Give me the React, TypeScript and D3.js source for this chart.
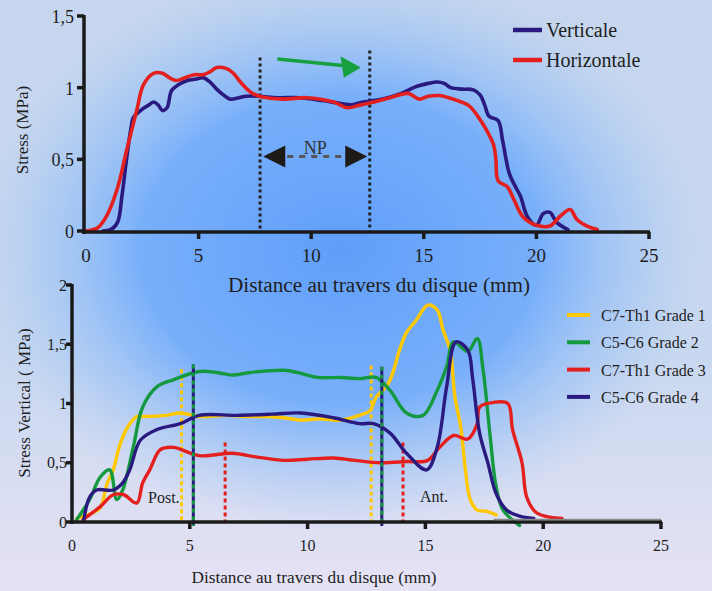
import React from "react";
import * as d3 from "d3";

type P = [number, number];

// ---- Top chart data ----
const verticale: P[] = [[0.75,0],[1.1,0.01],[1.4,0.06],[1.6,0.25],[1.8,0.5],[2.0,0.72],[2.1,0.79],[2.5,0.85],[2.8,0.88],[3.0,0.9],[3.2,0.88],[3.4,0.84],[3.6,0.86],[3.8,0.98],[4.1,1.02],[4.5,1.05],[4.9,1.06],[5.2,1.07],[5.5,1.04],[5.8,0.99],[6.1,0.95],[6.4,0.92],[6.8,0.93],[7.1,0.94],[7.7,0.94],[8.5,0.93],[9.5,0.93],[10.5,0.91],[11.3,0.89],[11.8,0.88],[12.3,0.9],[12.8,0.91],[13.4,0.93],[14.0,0.96],[14.4,0.99],[14.7,1.01],[15.2,1.03],[15.6,1.04],[15.9,1.03],[16.2,1.0],[16.7,0.99],[17.2,0.985],[17.5,0.95],[17.7,0.88],[17.9,0.8],[18.3,0.77],[18.5,0.63],[18.8,0.4],[19.1,0.3],[19.3,0.24],[19.6,0.1],[20.0,0.04],[20.3,0.12],[20.6,0.13],[20.9,0.06],[21.4,0.01]];
const horizontale: P[] = [[0,0],[0.5,0.02],[0.9,0.1],[1.4,0.3],[1.8,0.56],[2.25,0.84],[2.55,1.02],[3.0,1.1],[3.4,1.1],[3.7,1.07],[4.0,1.05],[4.4,1.07],[4.8,1.09],[5.2,1.09],[5.5,1.11],[5.8,1.14],[6.3,1.13],[6.6,1.09],[6.8,1.05],[7.3,0.97],[7.7,0.94],[8.8,0.92],[9.8,0.93],[11,0.9],[11.6,0.86],[12.2,0.88],[12.8,0.9],[13.5,0.93],[14.3,0.96],[14.8,0.92],[15.2,0.94],[15.7,0.945],[16.1,0.93],[16.5,0.91],[17.0,0.875],[17.4,0.8],[17.8,0.7],[18.1,0.6],[18.2,0.5],[18.3,0.35],[18.7,0.31],[19.0,0.22],[19.4,0.1],[20.0,0.04],[20.6,0.035],[21.1,0.11],[21.5,0.15],[21.8,0.08],[22.3,0.03],[22.7,0.01]];
const topXTicks = [0, 5, 10, 15, 20, 25];
const topYTicks = [0, 0.5, 1, 1.5];
const topMarkers: P[] = [[7.73, 1.21], [12.6, 1.26]]; // x, top

// ---- Bottom chart data ----
const grade1: P[] = [[0.2,0.03],[0.9,0.08],[1.2,0.12],[1.5,0.33],[1.75,0.44],[2.0,0.63],[2.3,0.78],[2.75,0.89],[3.0,0.89],[4.0,0.9],[4.6,0.92],[5.4,0.89],[6.5,0.9],[7.5,0.89],[8.3,0.89],[9.0,0.88],[9.7,0.86],[10.5,0.87],[11.4,0.86],[12.2,0.9],[12.65,0.94],[12.9,1.05],[13.4,1.16],[13.65,1.28],[13.9,1.45],[14.2,1.6],[14.6,1.7],[15.1,1.83],[15.5,1.79],[15.75,1.62],[16.05,1.45],[16.25,1.06],[16.5,0.8],[16.7,0.44],[16.9,0.19],[17.2,0.1],[17.6,0.09],[18.0,0.06]];
const grade2: P[] = [[0.2,0.02],[0.75,0.19],[1.2,0.38],[1.6,0.44],[1.9,0.19],[2.15,0.27],[2.6,0.63],[3.0,0.97],[3.6,1.14],[4.3,1.2],[5.4,1.27],[6.2,1.26],[6.85,1.24],[7.5,1.26],[9.0,1.28],[9.6,1.26],[10.4,1.22],[11.4,1.22],[12.2,1.21],[12.9,1.22],[13.5,1.11],[14.2,0.92],[14.9,0.9],[15.5,1.11],[15.9,1.31],[16.2,1.52],[16.8,1.44],[17.2,1.55],[17.45,1.28],[17.75,0.72],[18.0,0.3],[18.3,0.1],[19.0,-0.03]];
const grade3: P[] = [[0.47,0.02],[1.2,0.13],[1.75,0.23],[2.2,0.23],[2.75,0.16],[3.0,0.33],[3.3,0.44],[3.75,0.61],[4.3,0.63],[5.4,0.56],[6.8,0.58],[7.8,0.55],[9.0,0.52],[10,0.53],[11.1,0.54],[12,0.52],[13.1,0.5],[14.2,0.51],[15.1,0.52],[15.6,0.63],[16.2,0.73],[16.8,0.7],[17.2,0.83],[17.3,0.97],[17.9,1.01],[18.5,1.0],[18.7,0.78],[19.1,0.5],[19.3,0.21],[19.7,0.08],[20.3,0.04],[20.8,0.03]];
const grade4: P[] = [[0.5,0.02],[0.75,0.21],[1.05,0.27],[1.75,0.27],[2.15,0.33],[2.45,0.44],[2.9,0.69],[3.6,0.78],[4.6,0.83],[5.4,0.9],[7,0.9],[8.5,0.91],[9.7,0.92],[11.1,0.88],[12.2,0.83],[12.8,0.83],[13.5,0.75],[14.2,0.58],[15.05,0.44],[15.5,0.63],[15.9,1.14],[16.3,1.52],[16.8,1.45],[17.0,1.22],[17.3,0.75],[17.65,0.5],[18.0,0.24],[18.45,0.1],[19.0,0.05],[19.6,0.03]];
const bottomXTicks = [0, 5, 10, 15, 20, 25];
const bottomYTicks = [0, 0.5, 1, 1.5, 2];
const bottomLegend = ["C7-Th1 Grade 1", "C5-C6 Grade 2", "C7-Th1 Grade 3", "C5-C6 Grade 4"];
const bottomColors = ["#ffc800", "#14993f", "#e3201e", "#2a1a80"];
const yellowMarkers: P[] = [[4.65, 1.29], [12.7, 1.32]];
const gbMarkers: P[] = [[5.15, 1.33], [13.15, 1.31]];
const redMarkers: P[] = [[6.5, 0.67], [14.05, 0.67]];

const fmt = (v: number) => String(v).replace(".", ",");
const FONT = "'Liberation Serif', 'Times New Roman', 'DejaVu Serif', serif";
const TXT = "#1e1e1e";

export default function App() {
  const xT = d3.scaleLinear().domain([0, 25]).range([86, 649]);
  const yT = d3.scaleLinear().domain([0, 1.5]).range([231, 16]);
  const xB = d3.scaleLinear().domain([0, 25]).range([72, 661]);
  const yB = d3.scaleLinear().domain([0, 2]).range([522, 285]);

  const curve = d3.curveCatmullRom.alpha(0.5);
  const lineT = d3.line<P>().x(d => xT(d[0])).y(d => yT(d[1])).curve(curve);
  const lineB = d3.line<P>().x(d => xB(d[0])).y(d => yB(d[1])).curve(curve);

  const topSeries = [
    { name: "Verticale", data: verticale, color: "#2a1a80" },
    { name: "Horizontale", data: horizontale, color: "#e3201e" },
  ];
  const bottomSeries = [grade1, grade2, grade3, grade4];

  const npY = yT(0.52);
  const npL = xT(7.87);
  const npR = xT(12.49);

  return (
    <svg width={712} height={591} style={{ position: "absolute", left: 0, top: 0 }} fontFamily={FONT}>
      <defs>
        <linearGradient id="bgLin" x1="0" y1="0" x2="0" y2="1">
          <stop offset="0" stopColor="#c6d6ee" />
          <stop offset="0.6" stopColor="#c8d8f0" />
          <stop offset="1" stopColor="#e6e2f4" />
        </linearGradient>
        <radialGradient id="bgRad" cx="340" cy="250" r="330" gradientUnits="userSpaceOnUse" gradientTransform="translate(340 250) scale(1.1 0.85) translate(-340 -250)">
          <stop offset="0" stopColor="#5f9ef9" stopOpacity="1" />
          <stop offset="0.55" stopColor="#74adfb" stopOpacity="0.95" />
          <stop offset="1" stopColor="#9cc4f4" stopOpacity="0" />
        </radialGradient>
      </defs>
      <rect width={712} height={591} fill="url(#bgLin)" />
      <rect width={712} height={591} fill="url(#bgRad)" />

      {/* ===== Top chart ===== */}
      {topMarkers.map((m, i) => (
        <line key={i} x1={xT(m[0])} x2={xT(m[0])} y1={yT(m[1])} y2={yT(0)} stroke="#222" strokeWidth={3} strokeDasharray="3 3" />
      ))}
      {topSeries.map(s => (
        <path key={s.name} d={lineT(s.data) || ""} fill="none" stroke={s.color} strokeWidth={3.6} strokeLinejoin="round" strokeLinecap="round" />
      ))}
      <line x1={84} x2={84} y1={15} y2={234} stroke="#1a1a1a" strokeWidth={3.5} />
      <line x1={82} x2={650} y1={232} y2={232} stroke="#1a1a1a" strokeWidth={3.5} />
      {topYTicks.map(t => (
        <g key={t}>
          <line x1={77} x2={84} y1={yT(t)} y2={yT(t)} stroke="#1a1a1a" strokeWidth={3.5} />
          <text x={74} y={yT(t) + 3} textAnchor="end" dominantBaseline="middle" fontSize={18} fill={TXT}>{fmt(t)}</text>
        </g>
      ))}
      {topXTicks.map(t => (
        <g key={t}>
          {t > 0 && <line x1={xT(t)} x2={xT(t)} y1={232} y2={239} stroke="#1a1a1a" strokeWidth={3.5} />}
          <text x={xT(t)} y={262} textAnchor="middle" fontSize={19} fill={TXT}>{t}</text>
        </g>
      ))}
      <text transform="translate(28,130) rotate(-90)" textAnchor="middle" fontSize={17} fill={TXT}>Stress (MPa)</text>
      <text x={379} y={292} textAnchor="middle" fontSize={20} fill={TXT} textLength={302} lengthAdjust="spacingAndGlyphs">Distance au travers du disque (mm)</text>

      {/* NP annotation */}
      <path d={`M${npL},${npY} L${npL + 22},${npY - 11} L${npL + 22},${npY + 11} Z`} fill="#1e1a18" />
      <path d={`M${npR},${npY} L${npR - 22},${npY - 11} L${npR - 22},${npY + 11} Z`} fill="#1e1a18" />
      <line x1={npL + 24} x2={npR - 24} y1={npY} y2={npY} stroke="#555" strokeWidth={3} strokeDasharray="6 6" />
      <text x={(npL + npR) / 2} y={npY - 2} textAnchor="middle" fontSize={18} fill="#333">NP</text>
      {/* green arrow */}
      <line x1={xT(8.5)} y1={yT(1.2)} x2={xT(11.4)} y2={yT(1.155)} stroke="#16a040" strokeWidth={3.5} />
      <path d={`M${xT(12.2)},${yT(1.14)} L${xT(11.3)},${yT(1.22)} L${xT(11.45)},${yT(1.07)} Z`} fill="#16a040" />

      {/* top legend */}
      {topSeries.map((s, i) => (
        <g key={s.name}>
          <line x1={513} x2={542} y1={30 + i * 30} y2={30 + i * 30} stroke={s.color} strokeWidth={4.5} />
          <text x={546} y={37 + i * 30} fontSize={20} fill={TXT}>{s.name}</text>
        </g>
      ))}

      {/* ===== Bottom chart ===== */}
      {yellowMarkers.map((m, i) => (
        <line key={"y" + i} x1={xB(m[0])} x2={xB(m[0])} y1={yB(m[1])} y2={yB(0)} stroke="#ffc800" strokeWidth={3} strokeDasharray="4 3" />
      ))}
      {redMarkers.map((m, i) => (
        <line key={"r" + i} x1={xB(m[0])} x2={xB(m[0])} y1={yB(m[1])} y2={yB(0)} stroke="#e3201e" strokeWidth={3} strokeDasharray="4 3" />
      ))}
      {bottomSeries.map((s, i) => (
        <path key={i} d={lineB(s) || ""} fill="none" stroke={bottomColors[i]} strokeWidth={3.4} strokeLinejoin="round" strokeLinecap="round" />
      ))}
      {gbMarkers.map((m, i) => (
        <g key={"gb" + i}>
          <line x1={xB(m[0])} x2={xB(m[0])} y1={yB(m[1])} y2={yB(0) + 4} stroke="#2a1a80" strokeWidth={3} />
          <line x1={xB(m[0])} x2={xB(m[0])} y1={yB(m[1])} y2={yB(0) + 4} stroke="#14993f" strokeWidth={3} strokeDasharray="4 4" />
        </g>
      ))}
      <line x1={72} x2={72} y1={284} y2={524} stroke="#1a1a1a" strokeWidth={3.5} />
      <line x1={70} x2={662} y1={522} y2={522} stroke="#1a1a1a" strokeWidth={3.5} />
      <line x1={xB(17.9)} x2={661} y1={519.5} y2={519.5} stroke="#8a8a8a" strokeWidth={1.5} />
      {bottomYTicks.map(t => (
        <g key={t}>
          <line x1={66} x2={72} y1={yB(t)} y2={yB(t)} stroke="#1a1a1a" strokeWidth={3.5} />
          <text x={67} y={yB(t) + 2} textAnchor="end" dominantBaseline="middle" fontSize={16} fill={TXT}>{fmt(t)}</text>
        </g>
      ))}
      {bottomXTicks.map(t => (
        <g key={t}>
          {t > 0 && <line x1={xB(t)} x2={xB(t)} y1={522} y2={529} stroke="#1a1a1a" strokeWidth={3.5} />}
          <text x={xB(t)} y={551} textAnchor="middle" fontSize={16} fill={TXT}>{t}</text>
        </g>
      ))}
      <text transform="translate(30,403) rotate(-90)" textAnchor="middle" fontSize={17} fill={TXT}>Stress Vertical ( MPa)</text>
      <text x={314} y={583} textAnchor="middle" fontSize={16} fill={TXT} textLength={245} lengthAdjust="spacingAndGlyphs">Distance au travers du disque (mm)</text>
      <text x={148} y={503} fontSize={16} fill={TXT}>Post.</text>
      <text x={420} y={502} fontSize={16} fill={TXT}>Ant.</text>

      {bottomLegend.map((name, i) => (
        <g key={name}>
          <line x1={567} x2={590} y1={315 + i * 27.3} y2={315 + i * 27.3} stroke={bottomColors[i]} strokeWidth={4} />
          <text x={601} y={321 + i * 27.3} fontSize={16} fill={TXT}>{name}</text>
        </g>
      ))}
    </svg>
  );
}
